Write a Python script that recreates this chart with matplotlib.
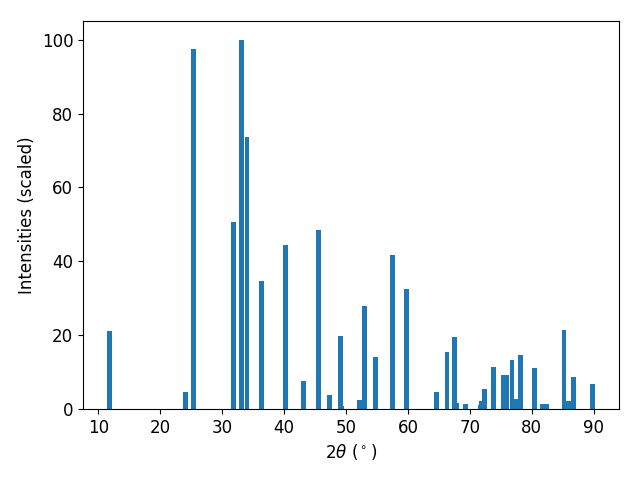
import numpy as np
import matplotlib
matplotlib.use('Agg')
import matplotlib.pyplot as plt

# peak positions (2theta, degrees) and scaled intensities
two_theta = [11.85, 24.0, 25.3, 31.8, 33.05, 34.0, 36.4, 40.2, 43.1, 45.5,
             47.25, 49.05, 49.25, 52.1, 52.95, 54.7, 57.45, 59.7, 64.55, 66.3,
             67.45, 67.8, 69.25, 71.65, 71.95, 72.3, 73.75, 75.5, 75.9, 76.8,
             77.6, 78.1, 80.5, 81.65, 82.45, 85.2, 86.0, 86.8, 89.8]
intensity = [21.1, 4.7, 97.6, 50.7, 100.0, 73.7, 34.7, 44.4, 7.6, 48.5,
             3.8, 19.8, 0.8, 2.4, 27.9, 14.1, 41.7, 32.5, 4.6, 15.4,
             19.5, 1.6, 1.3, 1.0, 2.1, 5.4, 11.3, 9.2, 9.2, 13.3,
             2.7, 14.6, 11.1, 1.3, 1.3, 21.4, 2.1, 8.6, 6.8]

plt.rcParams['font.size'] = 12

fig, ax = plt.subplots(figsize=(6.4, 4.8), dpi=100)
fig.subplots_adjust(left=0.1297, right=0.9677, bottom=0.148, top=0.9556)
ax.bar(two_theta, intensity, width=0.8)
ax.set_xlabel(r'$2\theta$ ($^\circ$)')
ax.set_ylabel('Intensities (scaled)')
fig.savefig('out.png')
